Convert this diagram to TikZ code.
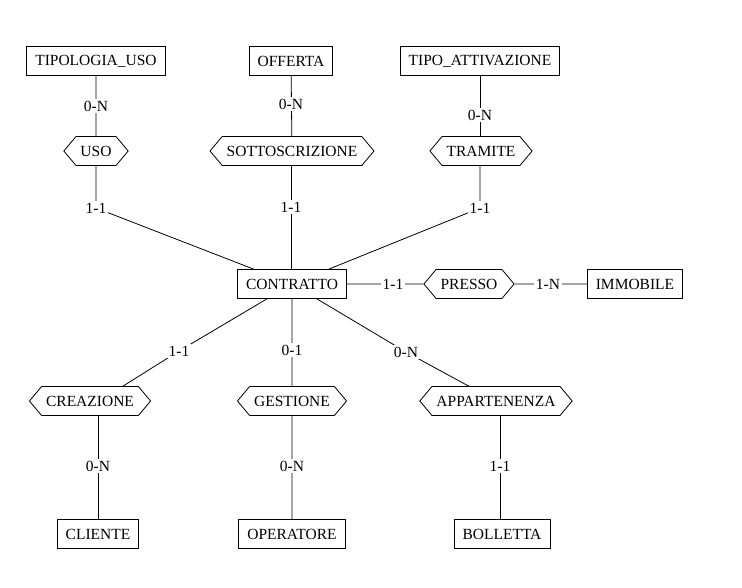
\documentclass[tikz,border=0pt]{standalone}
\usepackage{fontspec}
\setmainfont{Liberation Serif}
\usetikzlibrary{shapes.symbols}
\begin{document}
\begin{tikzpicture}[x=1pt,y=-1pt,
  every node/.style={font=\fontsize{15.5}{18}\selectfont},
  entity/.style={draw, line width=0.8pt, rectangle, minimum height=29pt, inner xsep=8.5pt, inner ysep=0pt, fill=white},
  relation/.style={draw, line width=0.8pt, shape=signal, signal to=east and west, signal pointer angle=100, minimum height=29pt, inner xsep=4.5pt, inner ysep=0pt, fill=white},
  card/.style={fill=white, inner sep=1.5pt},
  link/.style={draw, line width=0.8pt}]
\useasboundingbox (0,0) rectangle (742,587);

% entities
\node[entity] (tipuso) at (96,61) {TIPOLOGIA\_USO};
\node[entity] (offerta) at (291,61) {OFFERTA};
\node[entity] (tipatt) at (480,61) {TIPO\_ATTIVAZIONE};
\node[entity] (contratto) at (292,284) {CONTRATTO};
\node[entity] (immobile) at (635,284) {IMMOBILE};
\node[entity] (cliente) at (98,534) {CLIENTE};
\node[entity] (operatore) at (292,534) {OPERATORE};
\node[entity] (bolletta) at (502,534) {BOLLETTA};

% relations
\node[relation] (uso) at (96,151) {USO};
\node[relation] (sotto) at (292,151) {SOTTOSCRIZIONE};
\node[relation] (tramite) at (481,151) {TRAMITE};
\node[relation] (presso) at (469,284) {PRESSO};
\node[relation] (creazione) at (90,401) {CREAZIONE};
\node[relation] (gestione) at (292,401) {GESTIONE};
\node[relation] (appart) at (496,401) {APPARTENENZA};

% cardinality positions
\coordinate (c1) at (96,106);
\coordinate (c2) at (291,104);
\coordinate (c3) at (480,115);
\coordinate (c4) at (96,208);
\coordinate (c5) at (291,207);
\coordinate (c6) at (480,208);
\coordinate (c7) at (393,284);
\coordinate (c8) at (548,284);
\coordinate (c9) at (179,351);
\coordinate (c10) at (292,350);
\coordinate (c11) at (406,352);
\coordinate (c12) at (98,466);
\coordinate (c13) at (292,466);
\coordinate (c14) at (500,466);
\coordinate (e9) at ([xshift=33pt]creazione.north);

% connectors
\draw[link] (tipuso) -- (uso);
\draw[link] (offerta) -- (sotto);
\draw[link] (tipatt.south -| c3) -- (tramite.north -| c3);
\draw[link] (uso) -- (c4) -- (contratto);
\draw[link] (sotto.south -| c5) -- (contratto.north -| c5);
\draw[link] (tramite.south -| c6) -- (c6) -- (contratto);
\draw[link] (contratto) -- (presso) -- (immobile);
\draw[link] (contratto) -- (c9) -- (e9);
\draw[link] (contratto) -- (gestione);
\draw[link] (contratto) -- (c11) -- (appart);
\draw[link] (creazione.south -| c12) -- (cliente);
\draw[link] (gestione) -- (operatore);
\draw[link] (appart.south -| c14) -- (bolletta.north -| c14);

% cardinality labels
\node[card] (l1) at (c1) {0-N};
\node[card] (l2) at (c2) {0-N};
\node[card] (l3) at (c3) {0-N};
\node[card] (l4) at (c4) {1-1};
\node[card] (l5) at (c5) {1-1};
\node[card] (l6) at (c6) {1-1};
\node[card] (l7) at (c7) {1-1};
\node[card] (l8) at (c8) {1-N};
\node[card] (l9) at (c9) {1-1};
\node[card] (l10) at (c10) {0-1};
\node[card] (l11) at (c11) {0-N};
\node[card] (l12) at (c12) {0-N};
\node[card] (l13) at (c13) {0-N};
\node[card] (l14) at (c14) {1-1};
\end{tikzpicture}
\end{document}
